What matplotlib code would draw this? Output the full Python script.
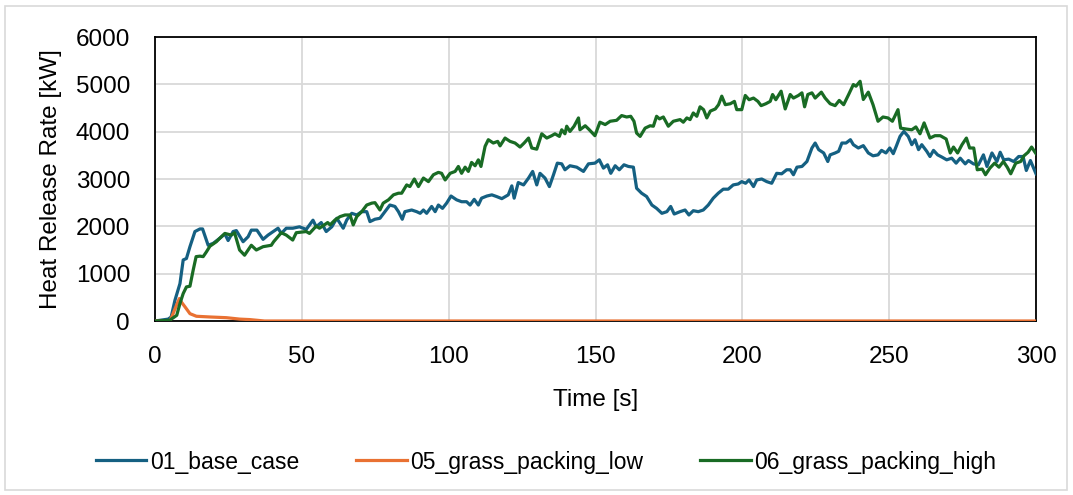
import matplotlib.pyplot as plt
from matplotlib.patches import Rectangle

# Zeitachsen [s] und Waermefreisetzungsraten [kW]
t_base = [0, 4.5, 5.5, 6.8, 8.5, 9.6, 10.7, 11.9, 13.6, 15.3, 16.2, 18.1, 19.8, 22, 23.8, 24.9,
          26.6, 27.7, 30, 31.7, 32.8, 34.7, 36.8, 38.5, 41.9, 43, 44.7, 46.9, 49.2, 51.5, 53.8,
          54.9, 56.6, 58.3, 60.2, 61.9, 63, 64.1, 65.3, 67, 68.7, 70.4, 72.1, 73.2, 74.9, 76.6,
          78.3, 80, 81.7, 82.9, 84.2, 85.1, 87.4, 89.1, 90.3, 91.4, 92.5, 94.2, 95.4, 96.5, 97.9,
          99.3, 100.8, 102.7, 104.4, 106.1, 107.3, 108.7, 110.1, 111.2, 113, 114.7, 116.3, 118.1,
          120.3, 121.5, 122.3, 123.7, 125.5, 127.2, 128.6, 130, 131.1, 132.8, 134.3, 135.7, 137,
          138.5, 139.6, 141.3, 143.6, 145.9, 147.6, 149.8, 151.3, 152.7, 154.1, 155.2, 156.7,
          158.1, 159.7, 161.2, 162.9, 164, 165.7, 167.4, 169.2, 170.8, 172.6, 174.3, 175.6, 176.8,
          178.8, 180.5, 181.8, 183.3, 185, 186.7, 188.4, 190.1, 191.8, 193.5, 195.2, 196.9, 198.6,
          199.8, 201.1, 202.3, 203.8, 204.9, 206.6, 208.3, 210, 211.7, 213.4, 215.1, 216.3, 217.4,
          218.6, 220.3, 222, 223.7, 224.8, 226, 227.7, 229.1, 229.9, 231.6, 232.8, 233.9, 235.3,
          236.8, 237.8, 239.5, 241.2, 242.9, 244.5, 246.2, 247.4, 248.9, 250.2, 251.4, 252.5,
          253.7, 255, 256.5, 257.7, 258.8, 260, 261.1, 262.8, 263.9, 265.1, 266.5, 267.9, 269.6,
          271.3, 272.8, 274.2, 275.9, 277, 278.7, 280.4, 282.1, 283.3, 285, 286.7, 287.8, 289,
          290.7, 292.4, 294.1, 295.6, 296.7, 298.1, 300]
hrr_base = [0, 40, 85, 440, 790, 1290, 1320, 1570, 1890, 1945, 1945, 1600, 1640, 1745, 1840, 1700,
            1890, 1910, 1675, 1780, 1920, 1920, 1725, 1815, 1960, 1850, 1960, 1960, 1990, 1935, 2130,
            1990, 2080, 1890, 1990, 2170, 2065, 1960, 2135, 2275, 2240, 2310, 2310, 2100, 2150, 2170,
            2310, 2450, 2420, 2310, 2150, 2310, 2345, 2310, 2275, 2345, 2275, 2420, 2310, 2450, 2380,
            2490, 2640, 2560, 2520, 2520, 2450, 2570, 2450, 2595, 2640, 2665, 2630, 2585,
            2665, 2855, 2595, 2925, 2875, 3020, 3160, 2875, 3120, 3020, 2840, 3090, 3335,
            3320, 3195, 3280, 3250, 3160, 3320, 3335, 3405, 3230, 3300, 3120, 3280,
            3195, 3300, 3265, 3250, 2805, 2700, 2630, 2450, 2380, 2275, 2310, 2420, 2260,
            2310, 2345, 2240, 2330, 2310, 2345, 2450, 2595, 2700, 2785, 2785, 2875, 2895,
            2945, 2910, 2980, 2840, 2980, 3000, 2945, 2910, 3120, 3110, 3195, 3195, 3090,
            3250, 3265, 3370, 3655, 3760, 3620, 3550, 3370, 3510, 3550, 3585, 3760, 3760,
            3830, 3725, 3655, 3705, 3550, 3490, 3510, 3605, 3550, 3655, 3535, 3705,
            3900, 4005, 3900, 3725, 3830, 3620, 3725, 3585, 3475, 3605, 3510, 3465, 3405,
            3440, 3335, 3440, 3320, 3390, 3320, 3300, 3510, 3265, 3550, 3370, 3565, 3405,
            3420, 3370, 3475, 3475, 3180, 3390, 3110]

t_low = [0, 5, 5.7, 7.1, 8.3, 9, 10.2, 11.9, 14.1, 18.7, 24.3, 28.8, 32.2, 37.3, 300]
hrr_low = [0, 0, 85, 300, 475, 400, 300, 155, 100, 85, 70, 40, 30, 0, 0]

t_high = [0, 5, 7.4, 8.5, 9.6, 10.7, 11.9, 13, 14, 15.3, 16.4, 17.5, 18.7, 20.9, 22, 23.8, 26,
          27.1, 28.8, 30.5, 32.8, 34.5, 36.8, 39.6, 40.4, 43, 44.7, 46.9, 48.1, 51.5, 52.6, 54.9,
          56, 58.8, 59.6, 61.3, 63, 64.7, 66.4, 67.5, 68.7, 70.4, 72.1, 73.8, 74.9, 76.6, 77.7,
          79.5, 81.2, 82.9, 84, 85.7, 86.8, 88.3, 89.7, 91.4, 93.1, 94.8, 96.5, 97.6, 98.8, 100.5,
          102.2, 103.3, 104.4, 105.6, 106.7, 107.8, 109, 110.1, 111, 112.4, 113.5, 115.2, 116.7,
          117.5, 119.2, 120.9, 122.6, 124.3, 125.7, 127.2, 128.3, 130, 131.7, 133.4, 135.1, 136.2,
          137.7, 138.5, 139.6, 140.2, 141.3, 142.7, 144.2, 144.7, 146.5, 147.9, 149.8, 151.5,
          153.3, 155, 157.2, 158.9, 160.6, 162, 163.1, 164, 165.2, 166.9, 168.6, 169.7, 170.8,
          171.8, 173.1, 174.8, 176.5, 178.8, 179.9, 181.1, 182.2, 183.3, 184.5, 185.6, 186.8,
          187.9, 189.1, 190.8, 191.9, 193, 194.2, 195.9, 197.3, 198.1, 199.8, 201, 202.3, 203.8,
          205.3, 206.4, 208, 209.5, 210.3, 211.4, 213.2, 214.6, 216.3, 217.4, 219.1, 220.3, 221.2,
          222.3, 223.7, 224.8, 226.9, 228.2, 229.9, 231.6, 233, 234.5, 236.2, 237.8, 238.7, 240.1,
          241.2, 242.9, 244.5, 246.2, 247.9, 249.6, 251.1, 253, 253.9, 255.9, 257.7, 259.1, 260.5,
          261.9, 263.9, 265.6, 267.4, 269.4, 270.8, 271.9, 273.3, 274.8, 276.3, 277.4, 278.8, 280,
          281.7, 282.8, 284.3, 285.9, 287.4, 288.9, 290.2, 291.4, 293.1, 294.8, 295.9, 297.3,
          298.5, 299.4, 300]
hrr_high = [0, 15, 120, 370, 580, 720, 735, 1075, 1360, 1370, 1360, 1460, 1580, 1675, 1745, 1850, 1815,
            1865, 1500, 1390, 1600, 1500, 1570, 1600, 1675, 1865, 1815, 1710, 1865, 1890, 1850, 2005,
            1960, 2080, 2030, 2135, 2205, 2240, 2240, 2030, 2205, 2310, 2450, 2490, 2500, 2345, 2490,
            2560, 2665, 2700, 2700, 2875, 2840, 3000, 2840, 3020, 2945, 3090, 3140, 3120, 2980, 3120,
            3160, 3265, 3120, 3250, 3160, 3350, 3280, 3405, 3265, 3690, 3830, 3760, 3795,
            3700, 3865, 3795, 3760, 3675, 3760, 3865, 3655, 3630, 3955, 3865, 3915, 3955,
            3900, 4040, 3955, 4115, 4005, 4115, 4290, 4040, 4125, 4040, 3915, 4200,
            4150, 4220, 4240, 4340, 4310, 4325, 4220, 3970, 3900, 4075, 4125, 4115, 4325,
            4270, 4310, 4115, 4220, 4255, 4200, 4290, 4255, 4395, 4325, 4525, 4465,
            4290, 4435, 4480, 4570, 4750, 4570, 4590, 4640, 4465, 4465, 4765, 4675, 4710,
            4640, 4550, 4590, 4640, 4785, 4675, 4855, 4480, 4785, 4710, 4765, 4820, 4525,
            4785, 4820, 4710, 4835, 4710, 4590, 4550, 4660, 4570, 4785, 4995, 4960, 5065,
            4680, 4835, 4570, 4220, 4310, 4290, 4220, 4465, 4075, 4055, 4040, 4100, 3955,
            4185, 3865, 3915, 3915, 3845, 3550, 3675, 3550, 3725, 3865, 3655, 3655, 3195,
            3210, 3090, 3230, 3335, 3250, 3370, 3250, 3110, 3335, 3370, 3490, 3565,
            3675, 3590, 3535]

plt.rcParams['font.family'] = ['Liberation Sans', 'DejaVu Sans']

fig = plt.figure(figsize=(10.73, 4.95), dpi=100)
ax = fig.add_axes([155 / 1073, 1 - 321 / 495, (1036 - 155) / 1073, (321 - 37) / 495])

# Rahmen um das gesamte Diagramm (wie in Excel)
fig.patches.append(Rectangle((5 / 1073, 5 / 495), 1062 / 1073, 484 / 495,
                             transform=fig.transFigure, fill=False,
                             edgecolor='#d9d9d9', linewidth=1.2))

ax.plot(t_base, hrr_base, color='#156082', lw=2.3, label='01_base_case', zorder=3)
ax.plot(t_low, hrr_low, color='#E97132', lw=2.3, label='05_grass_packing_low', zorder=3)
ax.plot(t_high, hrr_high, color='#196B24', lw=2.3, label='06_grass_packing_high', zorder=3)

ax.set_xlim(0, 300)
ax.set_ylim(0, 6000)
ax.set_xticks(range(0, 301, 50))
ax.set_yticks(range(0, 6001, 1000))
ax.grid(True, color='#d9d9d9', lw=1.3)
ax.set_axisbelow(True)
for s in ax.spines.values():
    s.set_color('black')
    s.set_linewidth(1.3)
ax.tick_params(length=0, labelsize=17.5, colors='#000000')
ax.tick_params(axis='x', pad=18)
ax.tick_params(axis='y', pad=18)

ax.set_xlabel('Time [s]', fontsize=17.5, labelpad=15)
ax.set_ylabel('Heat Release Rate [kW]', fontsize=17.5, labelpad=10)

fig.legend(loc='center', bbox_to_anchor=(546 / 1073, 1 - 462 / 495), ncol=3,
           frameon=False, fontsize=16.5, handlelength=2.2, handletextpad=0.15,
           columnspacing=2.5)

fig.savefig('out.png', dpi=100)
